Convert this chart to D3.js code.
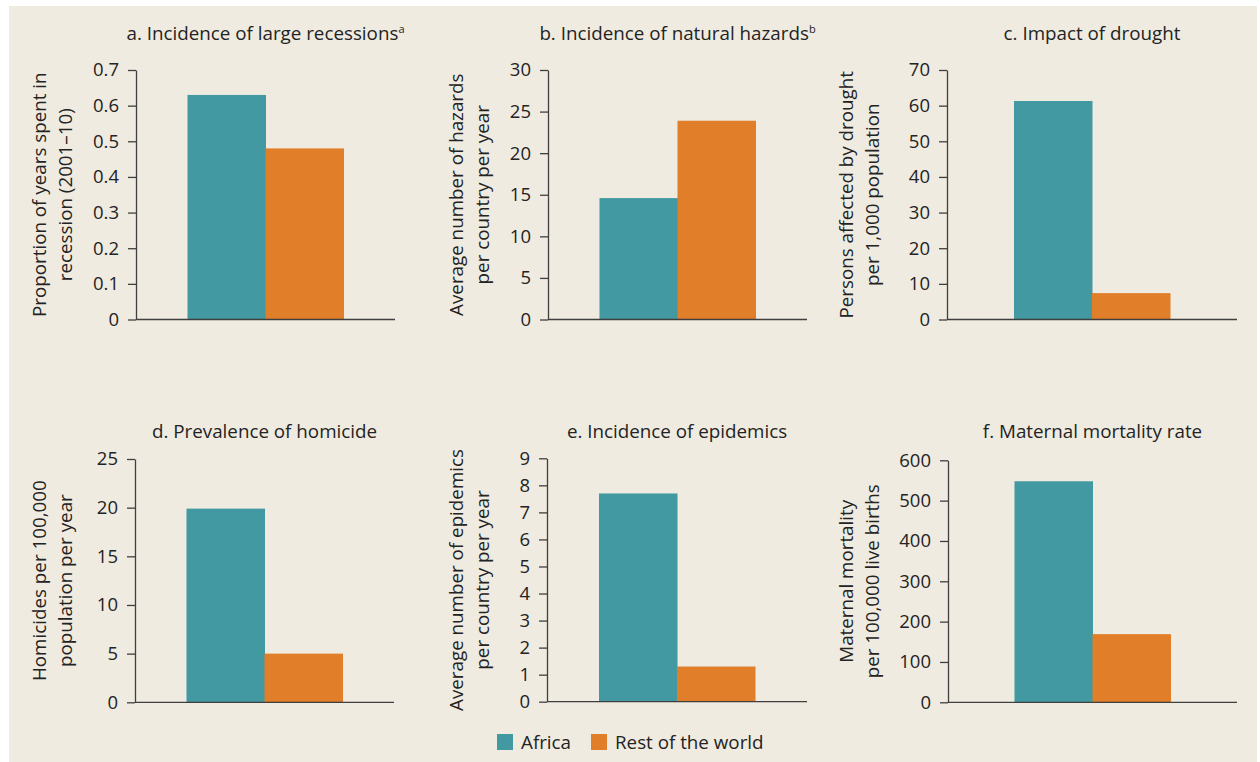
<!DOCTYPE html>
<html>
<head>
<meta charset="utf-8">
<script src="https://cdn.jsdelivr.net/npm/d3@7"></script>
<style>
  html, body { margin: 0; padding: 0; background: #ffffff; }
  svg text { font-family: "Open Sans", "Noto Sans", sans-serif; fill: #232323; }
</style>
</head>
<body>
<div id="chart"></div>
<script>
// --- data ---
const categories = ["Africa", "Rest of the world"];
const panelTitles = [
  "a. Incidence of large recessions",
  "b. Incidence of natural hazards",
  "c. Impact of drought",
  "d. Prevalence of homicide",
  "e. Incidence of epidemics",
  "f. Maternal mortality rate"
];
const titleNotes = ["a", "b", "", "", "", ""];
const axisLabels = [
  ["Proportion of years spent in", "recession (2001\u201310)"],
  ["Average number of hazards", "per country per year"],
  ["Persons affected by drought", "per 1,000 population"],
  ["Homicides per 100,000", "population per year"],
  ["Average number of epidemics", "per country per year"],
  ["Maternal mortality", "per 100,000 live births"]
];
const yMax = [0.7, 30, 70, 25, 9, 600];
const tickCounts = [7, 6, 7, 5, 9, 6];
const africaValues = [0.63, 14.6, 61.3, 19.9, 7.7, 548];
const restValues = [0.48, 23.9, 7.4, 5.0, 1.3, 169];

// --- layout (pixels) ---
const W = 1260, H = 762;
const colors = { Africa: "#4299a1", "Rest of the world": "#e07e29" };
const axisColor = "#3f3f3f";
const barWidth = 78;
const textSize = 18.8;
const boxes = [
  { x0: 136, x1: 395, top: 70, bottom: 319.5, lab: 90, titleY: 40 },
  { x0: 548, x1: 807, top: 70, bottom: 319.5, lab: 85, titleY: 40 },
  { x0: 947, x1: 1237, top: 70, bottom: 319.5, lab: 94, titleY: 40 },
  { x0: 135, x1: 394, top: 459, bottom: 702.3, lab: 89, titleY: 438 },
  { x0: 547, x1: 807, top: 458.3, bottom: 701.7, lab: 84, titleY: 438 },
  { x0: 948, x1: 1237, top: 460.3, bottom: 702.3, lab: 95, titleY: 438 }
];

const svg = d3.select("#chart").append("svg")
  .attr("width", W)
  .attr("height", H);

// beige panel background
svg.append("rect")
  .attr("x", 9).attr("y", 6)
  .attr("width", 1248).attr("height", 756)
  .attr("fill", "#efebe1");

panelTitles.forEach((title, i) => {
  const b = boxes[i];
  const g = svg.append("g");

  const y = d3.scaleLinear()
    .domain([0, yMax[i]])
    .range([b.bottom, b.top]);

  const span = b.x1 - b.x0;
  const outer = (span / barWidth - categories.length) / 2;
  const x = d3.scaleBand()
    .domain(categories)
    .range([b.x0, b.x1])
    .paddingInner(0)
    .paddingOuter(outer);

  const vals = [africaValues[i], restValues[i]];

  // bars
  g.selectAll("rect.bar")
    .data(categories.map((c, k) => ({ cat: c, v: vals[k] })))
    .enter()
    .append("rect")
    .attr("class", "bar")
    .attr("x", d => x(d.cat))
    .attr("y", d => y(d.v))
    .attr("width", x.bandwidth() + 0.5)
    .attr("height", d => y(0) - y(d.v))
    .attr("fill", d => colors[d.cat]);

  // y axis
  const fmt = yMax[i] < 1 ? (d => d === 0 ? "0" : d3.format(".1f")(d)) : d3.format("d");
  const ax = g.append("g")
    .attr("transform", `translate(${b.x0},0)`)
    .call(d3.axisLeft(y)
      .tickValues(d3.ticks(0, yMax[i], tickCounts[i]))
      .tickSize(8)
      .tickSizeOuter(0)
      .tickPadding(9)
      .tickFormat(fmt));
  ax.select(".domain").attr("stroke", axisColor).attr("stroke-width", 1.3);
  ax.selectAll(".tick line").attr("stroke", axisColor).attr("stroke-width", 1.3);
  ax.selectAll(".tick text")
    .attr("font-size", 18.5)
    .attr("fill", "#232323")
    .attr("font-family", "Open Sans");

  // baseline
  g.append("line")
    .attr("x1", b.x0).attr("x2", b.x1)
    .attr("y1", y(0)).attr("y2", y(0))
    .attr("stroke", axisColor)
    .attr("stroke-width", 1.3);

  // title
  const t = g.append("text")
    .attr("x", (b.x0 + b.x1) / 2)
    .attr("y", b.titleY)
    .attr("text-anchor", "middle")
    .attr("font-size", textSize)
    .text(title);
  if (titleNotes[i]) {
    t.append("tspan")
      .attr("dy", -7)
      .attr("font-size", 11)
      .text(titleNotes[i]);
  }

  // y axis label (two lines)
  const midY = (b.top + b.bottom) / 2;
  axisLabels[i].forEach((line, k) => {
    g.append("text")
      .attr("transform", `translate(${b.x0 - b.lab + k * 26},${midY}) rotate(-90)`)
      .attr("text-anchor", "middle")
      .attr("font-size", textSize)
      .text(line);
  });
});

// legend
const legendX = [497, 591];
const legend = svg.append("g");
categories.forEach((c, k) => {
  legend.append("rect")
    .attr("x", legendX[k]).attr("y", 734)
    .attr("width", 16).attr("height", 16)
    .attr("fill", colors[c]);
  legend.append("text")
    .attr("x", legendX[k] + 24)
    .attr("y", 748.5)
    .attr("font-size", textSize)
    .text(c);
});
</script>
</body>
</html>
